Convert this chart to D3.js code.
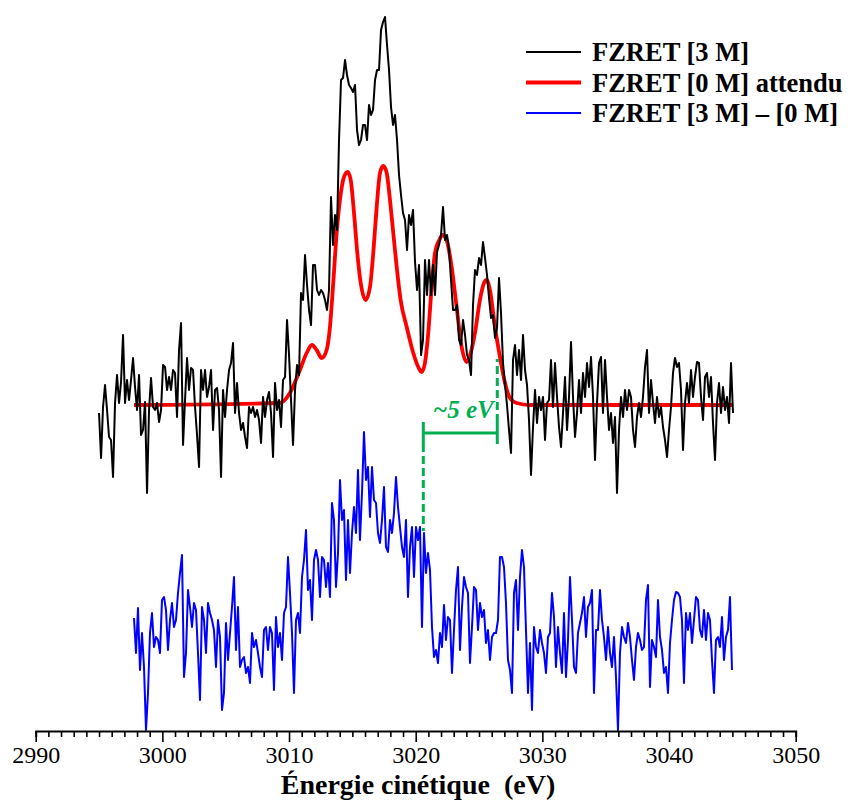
<html>
<script src='https://d3js.org/d3.v7.min.js'></script>
<style>
body {margin:0; background:white;}
text {font-family: 'Liberation Serif', 'Times New Roman', serif;}
</style>
<body>
<svg width=848 height=800></svg>
<script>
// FZRET [3 M], measured, 2995 -> 3045 eV, even sampling
var blackRange = [2995.0, 3045.05]
var blackVals = [
 -0.8, -5.3, -0.2, 2.0, -0.5, -3.2, -3.5, -7.2, 0.2, 3.0,
 0.2, 2.3, 7.0, 0.2, 2.5, 0.5, 2.5, 4.7, 1.8, -0.5,
 3.0, -3.0, -2.5, 0.3, -8.8, -0.5, 2.7, -0.2, -0.5, 0.2,
 -1.7, -0.5, 4.0, 3.8, 1.5, 2.8, 1.5, 3.5, 3.2, -1.2,
 5.5, 8.2, -4.0, 0.5, 4.7, 1.5, 3.7, 3.5, -0.2, -3.0,
 -6.2, 3.5, 1.5, 3.5, 0.8, 1.8, 3.5, -2.5, 1.5, 1.7,
 -0.5, -7.2, 1.5, -1.2, 1.5, 3.5, 4.2, 6.2, -0.8, 2.2,
 -0.8, -2.5, -1.8, -3.2, -4.3, -0.2, -0.8, -0.2, -1.2, -0.5,
 -1.5, -3.8, 0.8, -1.2, 0.5, 1.3, -0.8, -5.2, 2.2, -0.5,
 0.5, -2.2, 2.5, 2.8, 8.5,
 5.0, 0.5, -4.0, 1.5, 4.0, 3.0, 11.2, 10.5, 15.0, 12.0,
 9.5, 8.0, 14.0, 14.0, 11.5, 11.0, 11.5, 11.2, 10.5, 9.5,
 11.5, 20.8, 16.0, 19.0, 17.5, 26.5, 32.5, 32.7, 34.5, 33.0,
 32.0, 31.7, 31.3, 32.0, 27.5, 26.0, 26.5, 28.0, 28.0, 26.5,
 30.0, 29.0, 29.5, 32.5, 33.5, 33.5, 37.5, 38.3, 38.8, 36.0,
 33.5, 29.8, 28.0, 29.0, 26.5, 23.0, 21.0, 19.2, 18.5, 15.5,
 19.0, 18.0, 19.5, 14.3, 11.5, 14.0, 5.0, 6.5, 14.5, 11.0,
 14.5, 11.0, 14.0, 11.0, 15.3, 16.0, 17.0, 19.8, 16.5, 17.0,
 15.5, 12.5, 9.5, 9.5, 10.0, 6.5, 6.0, 8.5, 7.0, 5.0,
 4.5, 3.0, 10.0, 13.5, 13.0, 14.7, 14.0, 16.3, 14.7, 13.0,
 10.7, 8.7, 9.0, 6.7, 7.7, 12.7, 9.2, 4.2, 2.0, 0.0,
 -2.5, -4.8, 4.5, 6.0, 3.0, 5.5, 2.5, 7.0, 3.5, 2.0,
 -1.5, -7.0,
 -2.2, 1.5, -1.8, 0.8, -0.5, 0.8, -3.5, 0.2, 0.5, 4.5,
 -0.2, 4.2, 0.8, -2.2, -4.2, -0.8, 2.8, -2.5, 0.8, 6.3,
 0.8, -3.2, -0.8, 2.5, -0.8, 3.2, 0.8, 4.2, 1.8, 4.8,
 0.8, -5.5, 0.2, 4.2, 4.8, -0.8, 4.5, 0.8, -2.5, -0.8,
 -3.8, -1.2, -8.8, -2.5, 0.8, -1.2, 1.5, -0.5, 1.5, 0.8,
 -2.5, -4.2, -1.2, 0.2, -1.2, 0.8, 3.8, 5.5, -0.8, 2.5,
 0.2, -1.8, 0.8, -1.2, -0.2, -2.2, -3.5, -5.2, -2.5, -0.2,
 3.2, 4.7, 3.8, 4.2, 1.5, -4.5, 0.2, 2.2, 0.2, 3.5,
 0.8, 2.8, 4.3, 4.2, 0.8, -1.5, 2.8, 3.2, 0.8, 2.8,
 -1.8, -5.5, 0.2, 2.2, -0.8, 1.8, -0.5, 0.8, -1.8, 4.2,
 -0.8
]

// FZRET [0 M] attendu (expected), smooth
var redEnergy = [2997.76, 3009.28, 3010.07, 3010.86, 3011.39, 3011.81, 3012.18, 3012.58, 3012.97, 3013.23,
 3013.49, 3013.76, 3014.02, 3014.34, 3014.63, 3014.87, 3015.13, 3015.39, 3015.66, 3016.05,
 3016.39, 3016.65, 3016.92, 3017.18, 3017.44, 3017.71, 3017.97, 3018.23, 3018.50, 3018.81,
 3019.29, 3019.81, 3020.20, 3020.47, 3020.73, 3020.99, 3021.26, 3021.52, 3021.86, 3022.13,
 3022.44, 3022.84, 3023.23, 3023.63, 3024.02, 3024.34, 3024.68, 3025.07, 3025.39, 3025.60,
 3025.86, 3026.26, 3026.65, 3027.05, 3027.44, 3027.97, 3029.02, 3044.97]
var redVals = [0, 0.2, 1.2, 3.5, 5.2, 6.0, 5.5, 4.7, 5.5, 7.8,
 12.2, 17.2, 20.5, 22.8, 23.3, 22.5, 19.2, 15.2, 12.2, 10.5,
 11.8, 15.2, 19.8, 23.2, 23.9, 23.2, 20.5, 17.2, 13.8, 10.5,
 7.8, 5.2, 3.8, 3.3, 4.2, 7.2, 11.8, 15.2, 16.5, 17.0,
 16.5, 13.8, 9.8, 5.8, 4.3, 5.2, 7.2, 10.5, 12.2, 12.5,
 11.5, 7.8, 4.8, 2.2, 0.7, 0.2, 0, 0]

// FZRET [3 M] - [0 M], even sampling
var blueRange = [2997.76, 3044.97]
var blueVals = [
 2.4, -1.1, 3.4, -2.8, 0.9, -2.5, -8.8, -5.1, 0.9, 2.9,
 -0.5, 0.5, 0.2, -1.1, 4.2, 4.5, 3.2, -0.8, 2.2, 3.9,
 1.5, 2.2, 4.9, 6.9, 8.7, -3.5, -1.1, 5.2, 3.5, 1.5,
 3.9, 3.2, -1.1, -5.8, 3.5, 2.2, -1.1, 3.9, 2.9, 2.2,
 1.2, -2.5, 2.2, 0.5, -6.8, -5.1, 1.9, -1.8, 0.9, 3.5,
 6.5, -0.8, 3.5, -2.5, -1.8, -1.5, -3.1, -2.5, -4.1, 0.9,
 -0.5, 0.2, -1.1, -2.5, -3.5, 1.2, 1.5, -0.8, 1.5, 0.9,
 -4.8, 2.5, -0.5, 0.9, -1.8, 2.9, 3.5, 8.5, 4.9, 0.9,
 -5.1, 2.2, 2.9, 0.9, 6.5, 8.2, 11.2, 5.2, 6.2, 2.2,
 8.2, 9.2, 8.2, 4.5, 8.5, 8.2, 5.5, 7.9, 4.5, 13.9,
 12.2, 5.5, 8.9, 16.2, 12.2, 13.2, 6.2, 12.2, 6.9, 10.9,
 13.5, 10.9, 17.2, 10.2, 14.9, 21.0, 16.2, 17.5, 12.5, 17.5,
 14.2, 13.9, 10.9, 9.9, 12.2, 15.5, 9.5, 9.0, 12.2, 10.9,
 12.9, 16.5, 13.5,
 11.5, 9.5, 8.5, 12.2, 4.5, 9.5, 11.5, 6.5, 11.5, 10.2,
 11.5, 1.5, 10.9, 6.9, 8.9, 7.2, 1.5, -1.5, -0.8, -2.1,
 0.9, -0.5, 3.7, 0.2, 2.5, 2.2, -3.1, 1.2, 5.2, 7.5,
 -0.8, 3.5, 6.5, 5.5, 4.9, -2.1, 1.5, 5.5, 5.2, 1.2,
 3.9, 2.5, 3.2, -0.1, 1.2, -1.8, 0.5, 0.9, 0.9, 2.2,
 8.5, 8.5, 7.5, 3.9, -1.8, -2.8, -5.1, 4.9, 6.2, 1.2,
 6.5, 9.2, 7.5, 1.2, -5.1, -0.1, -6.8, 1.5, -0.5, -1.1,
 1.2, -0.1, -1.1, -3.1, 0.5, 0.9, 4.9, 2.5, -2.5, 1.5,
 -1.1, -3.1, 2.9, -3.5, 0.2, 6.5, 2.2, -2.5, -3.1, 0.9,
 1.9, 2.9, 4.5, 0.5, 3.5, 3.9, 5.2, -5.1, 1.2, 1.2,
 5.2, 2.2, 0.5, -1.8, 1.5, -1.1, -2.5, 0.5, -3.5, -8.8,
 -1.1, 1.5, 0.5, -0.1, 1.9, 0.5, -1.8, -3.8, -0.5, 0.9,
 0.2, -0.8, -0.5, 4.2, 5.7, -4.5, 0.2, -0.5, -1.5, 4.2,
 0.5, -0.8, -3.1, -2.5, -5.1, -0.1, 2.2, 4.2, 5.0, 4.9,
 4.5, 2.2, -4.1, 2.9, 1.2, 2.9, -0.1, 2.2, 4.5, 4.2,
 1.2, 0.5, 3.2, 0.2, 2.9, 2.2, -1.8, -5.1, 0.2, 0.5,
 -0.5, 2.5, -1.8, 0.5, 1.2, 4.5, -2.8
]
var blueOffset = -23.7

var tickLabels = [2990, 3000, 3010, 3020, 3030, 3040, 3050]
var legendNames = ["FZRET [3 M]", "FZRET [0 M] attendu", "FZRET [3 M] \u2013 [0 M]"]
var legendColors = ["#000000", "#ff0000", "#0000ff"]
var gapEnergies = [3020.6, 3026.44]
var gapLabel = "~5 eV"

function grid(r, n) {
  return d3.range(n).map(function(i) { return r[0] + i * (r[1] - r[0]) / (n - 1) })
}

var serif = "'Liberation Serif', 'Times New Roman', serif"
var svg = d3.select("svg")
var x = d3.scaleLinear().domain([2990, 3050]).range([35.7, 795.7])
var y = d3.scaleLinear().domain([-32.6, 40.5]).range([731, 0])

var blackData = grid(blackRange, blackVals.length).map(function(e, i) { return [e, blackVals[i]] })
var blueData = grid(blueRange, blueVals.length).map(function(e, i) { return [e, blueVals[i] + blueOffset] })
var redData = redEnergy.map(function(e, i) { return [e, redVals[i]] })

var line = d3.line().x(function(d) { return x(d[0]) }).y(function(d) { return y(d[1]) })
var smooth = d3.line().curve(d3.curveMonotoneX).x(function(d) { return x(d[0]) }).y(function(d) { return y(d[1]) })

svg.append("path").datum(redData).attr("d", smooth)
  .attr("fill", "none").attr("stroke", "#ff0000").attr("stroke-width", 3.8).attr("stroke-linejoin", "round")
svg.append("path").datum(blackData).attr("d", line)
  .attr("fill", "none").attr("stroke", "#000").attr("stroke-width", 2).attr("stroke-linejoin", "round")
svg.append("path").datum(blueData).attr("d", line)
  .attr("fill", "none").attr("stroke", "#0000ff").attr("stroke-width", 2).attr("stroke-linejoin", "round")

// ~5 eV marker
var green = "#00b050"
var g = svg.append("g").attr("stroke", green).attr("stroke-width", 3)
g.append("line").attr("x1", x(gapEnergies[0])).attr("x2", x(gapEnergies[1]))
  .attr("y1", y(-2.8)).attr("y2", y(-2.8))
g.selectAll(".cap").data(gapEnergies).enter().append("line")
  .attr("x1", function(d) { return x(d) }).attr("x2", function(d) { return x(d) })
  .attr("y1", y(-1.7)).attr("y2", y(-3.9))
g.append("line").attr("x1", x(gapEnergies[0])).attr("x2", x(gapEnergies[0]))
  .attr("y1", y(-3.9)).attr("y2", y(-12.6)).attr("stroke-dasharray", "8,4")
g.append("line").attr("x1", x(gapEnergies[1])).attr("x2", x(gapEnergies[1]))
  .attr("y1", y(-1.7)).attr("y2", y(4.6)).attr("stroke-dasharray", "8,4")
svg.append("text").attr("x", (x(gapEnergies[0]) + x(gapEnergies[1])) / 2 + 3).attr("y", y(-1.3))
  .attr("text-anchor", "middle").attr("fill", green)
  .style("font-size", "25px").style("font-weight", "bold").style("font-style", "italic")
  .text(gapLabel)

// x axis
var ax = svg.append("g").attr("transform", "translate(0,731)")
  .call(d3.axisBottom(x).tickValues(d3.range(2990, 3051, 1)).tickSizeOuter(0).tickSize(6)
    .tickFormat(function(d) { return tickLabels.indexOf(d) >= 0 ? d : "" }))
ax.attr("font-family", serif).attr("font-size", 24)
ax.select(".domain").attr("stroke-width", 2)
ax.selectAll(".tick line").attr("stroke-width", 1.6)
  .attr("y2", function(d) { return tickLabels.indexOf(d) >= 0 ? 11 : 6 })
ax.selectAll(".tick text").attr("y", 32).attr("dy", 0).attr("fill", "#000")
  .style("font-family", serif).style("font-size", "24px")

svg.append("text").attr("x", 418).attr("y", 793.5).attr("text-anchor", "middle")
  .style("font-size", "28px").style("font-weight", "bold").style("white-space", "pre")
  .text("\u00c9nergie cin\u00e9tique  (eV)")

// legend
var leg = svg.selectAll(".leg").data(legendNames).enter().append("g")
  .attr("transform", function(d, i) { return "translate(526," + (52 + i * 30.5) + ")" })
leg.append("line").attr("x1", 0).attr("x2", 55).attr("y1", 0).attr("y2", 0)
  .attr("stroke", function(d, i) { return legendColors[i] })
  .attr("stroke-width", function(d, i) { return i == 1 ? 3.8 : 2 })
leg.append("text").attr("x", 66).attr("y", 9)
  .style("font-size", "26.5px").style("font-weight", "bold")
  .text(function(d) { return d })
</script>
</body>
</html>
